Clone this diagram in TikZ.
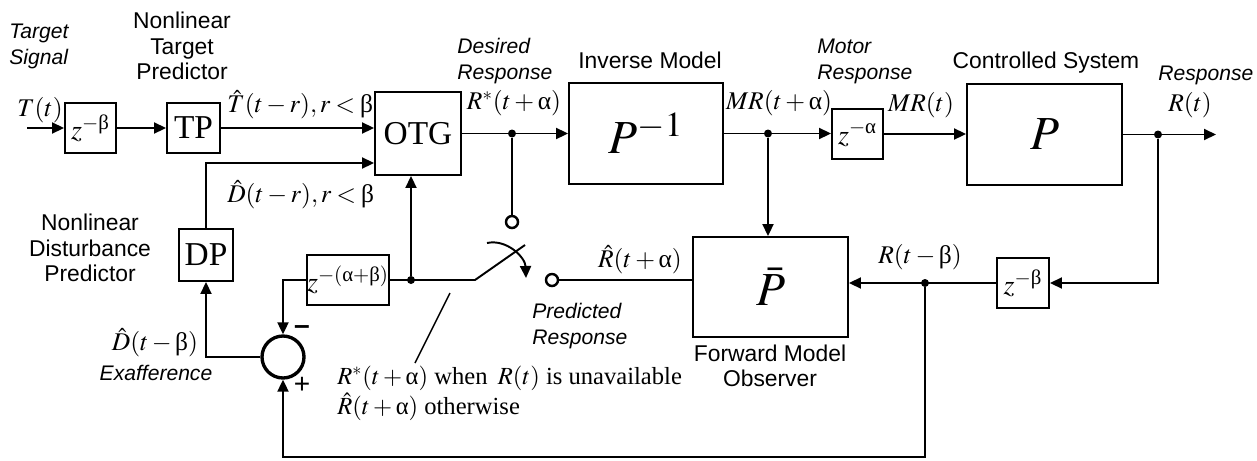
\documentclass[tikz,border=0pt]{standalone}
\usepackage{amsmath}
\usepackage{mathptmx}
\usepackage{fontspec}
\setmainfont{Liberation Serif}
\setsansfont{Liberation Sans}
\usepackage{tikz}
\usetikzlibrary{arrows.meta,positioning,calc}

\newcommand\capfont{\sffamily\fontsize{13}{14.6}\selectfont}
\newcommand\notefont{\sffamily\itshape\fontsize{12}{14.8}\selectfont}
\newcommand\alp{\text{\upshape α}}
\newcommand\bet{\text{\upshape β}}

\begin{document}
\begin{tikzpicture}[
  x=0.02cm, y=-0.02cm,
  blk/.style={draw, line width=1.1pt, inner sep=0pt, font=\fontsize{19}{21}\selectfont},
  dly/.style={blk, minimum width=1.02cm, minimum height=1cm, font=\fontsize{16}{18}\selectfont},
  plantbox/.style={blk, minimum width=3.1cm, minimum height=2.02cm, font=\fontsize{27}{30}\selectfont},
  arr/.style={-{Triangle[length=2.4mm,width=2.2mm]}, line width=1.1pt},
  wire/.style={line width=1.1pt},
  dot/.style={circle, fill, inner sep=0pt, minimum size=1.6mm},
  port/.style={circle, draw, line width=1.4pt, fill=white, inner sep=0pt, minimum size=2.4mm},
  sig/.style={inner sep=0pt, font=\fontsize{14.5}{17}\selectfont,
    execute at begin node={\medmuskip=2.5mu\thickmuskip=3.5mu}},
  captxt/.style={inner sep=0pt, align=center, font=\capfont},
  notetxt/.style={inner sep=0pt, align=left, font=\notefont}
]
  \useasboundingbox (0,0) rectangle (1257,460);

  % forward path
  \node[dly] (zb1) at (90.5,128) {$z^{-\bet}$};
  \node[blk, minimum width=1.06cm, minimum height=1cm] (tp) at (193.5,128) {TP};
  \node[blk, minimum width=1.72cm, minimum height=1.66cm] (otg) at (418,133.5) {OTG};
  \node[plantbox, minimum width=3.08cm] (pinv) at (646,133.5) {$P^{-1}$};
  \node[dly] (za) at (857.5,134) {$z^{-\alp}$};
  \node[plantbox] (plant) at (1044.5,134.5) {$P$};

  % feedback path
  \node[plantbox, minimum height=2cm] (pbar) at (770.5,287) {$\bar{P}$};
  \node[dly, minimum width=1.04cm] (zb2) at (1023,283) {$z^{-\bet}$};
  \node[blk, minimum width=1.52cm, minimum height=1cm, font=\fontsize{16}{18}\selectfont] (zab) at (348,280) {$z^{-(\alp+\bet)}$};
  \node[blk, minimum width=1.08cm, minimum height=1.04cm] (dp) at (206,255) {DP};
  \node[circle, draw, line width=1.9pt, minimum size=0.84cm] (sum) at (283,357) {};

  \node[dot] (rdes) at (512,133.5) {};
  \node[dot] (mrdot) at (768,133.5) {};
  \node[dot] (rdot) at (1158,134.5) {};
  \node[dot] (rbdot) at (925,283) {};
  \node[dot] (swdot) at (411,280) {};
  \node[port] (c1) at (512,222) {};
  \node[port] (c2) at (552,280) {};

  \coordinate (tin) at (27,128);
  \coordinate (rout) at (1216,134.5);
  \coordinate (dline) at (0,163);
  \coordinate (piv) at (475,280);
  \coordinate (blade) at (525,245);
  \coordinate (botR) at (925,457);
  \coordinate (ann1) at (450,293);
  \coordinate (ann2) at (415,363);

  \draw[arr] (tin) -- (zb1);
  \draw[arr] (zb1) -- (tp);
  \draw[arr] (tp.east) -- (tp.east -| otg.west);
  \draw[arr] (otg.east) -- (pinv.west);
  \draw[arr] (pinv.east) -- (za.west |- pinv.east);
  \draw[arr] (za.east) -- (plant.west |- za.east);
  \draw[arr] (plant.east) -- (rout);
  \draw[arr] (rdot) |- (zb2.east);
  \draw[arr] (zb2.west) -- (pbar.east |- zb2.west);
  \draw[arr] (mrdot) -- (mrdot |- pbar.north);
  \draw[wire] (c2) -- (c2 -| pbar.west);
  \draw[wire] (rdes) -- (c1);
  \draw[wire] (zab.east) -- (piv) -- (blade);
  \draw[arr] (487,243) to[out=12,in=92] (526,278);
  \draw[arr] (swdot) -- (swdot |- otg.south);
  \draw[arr] (zab.west) -| (sum.north);
  \draw[arr] (sum.west) -| (dp.south);
  \draw[arr] (dp.north) |- (dline -| otg.west);
  \draw[arr] (rbdot) -- (botR) -| (sum.south);
  \draw[line width=0.8pt] (ann1) -- (ann2);

  % labels
  \node[notetxt, anchor=west] (tsiglab) at (9,46) {Target\\Signal};
  \node[captxt] (tplab) at (182,46) {Nonlinear\\Target\\Predictor};
  \node[sig] (tlab) at (40,110) {$T(t)$};
  \node[sig, anchor=west] (thatlab) at (227,105) {$\hat{T}(t-r), r<\bet$};
  \node[sig, anchor=west] (dhatlab) at (227,195) {$\hat{D}(t-r), r<\bet$};
  \node[captxt] (dplab) at (90,248) {Nonlinear\\Disturbance\\Predictor};
  \node[sig] (dblab) at (155,343) {$\hat{D}(t-\bet)$};
  \node[notetxt] (exlab) at (156,373) {Exafference};
  \node[sig, font=\sffamily\bfseries\fontsize{16}{18}\selectfont] (minus) at (302,330) {--};
  \node[sig, font=\sffamily\fontsize{16}{18}\selectfont] (plus) at (302,385) {+};
  \node[notetxt, anchor=west] (deslab) at (457,61) {Desired\\Response};
  \node[sig] (rstar) at (514,103) {$R^{*}(t+\alp)$};
  \node[captxt] (invlab) at (650,60) {Inverse Model};
  \node[sig] (mrlab) at (779,103) {$MR(t+\alp)$};
  \node[notetxt, anchor=west] (motlab) at (817,61) {Motor\\Response};
  \node[sig] (mrtlab) at (921,105) {$MR(t)$};
  \node[captxt] (cslab) at (1046,63) {Controlled System};
  \node[notetxt, anchor=west] (resplab) at (1158,75) {Response};
  \node[sig] (rtlab) at (1190,105) {$R(t)$};
  \node[sig] (rhatlab) at (640,260) {$\hat{R}(t+\alp)$};
  \node[notetxt, anchor=west] (predlab) at (532,326) {Predicted\\Response};
  \node[captxt] (fwdlab) at (770,366) {Forward Model\\Observer};
  \node[sig] (rblab) at (920,257) {$R(t-\bet)$};
  \node[inner sep=0pt, align=left, anchor=west, font=\fontsize{14}{17}\selectfont] (swnote) at (337,393)
    {$R^{*}(t+\alp)$ when\, $R(t)$ is unavailable\\$\hat{R}(t+\alp)$ otherwise};
\end{tikzpicture}
\end{document}
